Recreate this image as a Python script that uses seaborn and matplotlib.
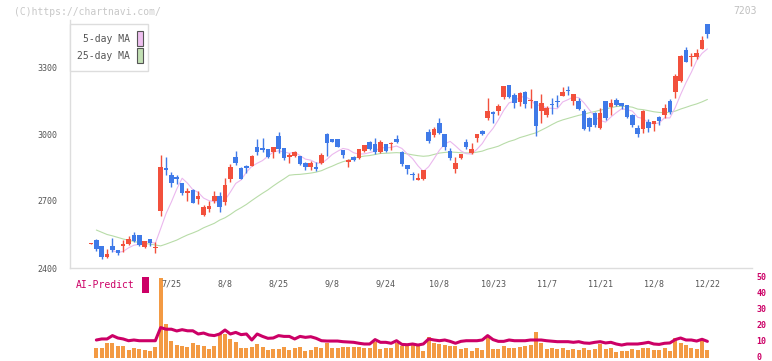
import numpy as np
import pandas as pd
import matplotlib
matplotlib.use('Agg')
import matplotlib.pyplot as plt
import matplotlib.transforms as mtransforms
from matplotlib.patches import Rectangle
import seaborn as sns

# daily prices
opens = [2509, 2525, 2498, 2451, 2498, 2481, 2498, 2507, 2548, 2548, 2495, 2530, 2490, 2657, 2848, 2816, 2807, 2782, 2738, 2749,
         2709, 2639, 2666, 2700, 2722, 2697, 2798, 2897, 2848, 2852, 2857, 2942, 2935, 2933, 2920, 2991, 2937, 2901, 2901, 2901,
         2871, 2854, 2851, 2869, 3000, 2976, 2976, 2928, 2876, 2897, 2891, 2925, 2964, 2954, 2921, 2955, 2953, 2978, 2921, 2861,
         2822, 2795, 2797, 3009, 2996, 3049, 3000, 2924, 2843, 2894, 2966, 2915, 2984, 3013, 3070, 3099, 3104, 3164, 3220, 3175,
         3145, 3188, 3148, 3148, 3104, 3085, 3134, 3148, 3172, 3196, 3148, 3148, 3103, 3073, 3096, 3026, 3148, 3122, 3152, 3139,
         3130, 3086, 3026, 3022, 3052, 3046, 3076, 3085, 3148, 3187, 3239, 3376, 3345, 3346, 3382, 3491]
highs = [2512, 2530, 2500, 2484, 2534, 2481, 2525, 2543, 2561, 2548, 2521, 2530, 2518, 2906, 2897, 2828, 2818, 2782, 2760, 2752,
         2746, 2682, 2700, 2746, 2742, 2804, 2866, 2924, 2851, 2861, 2905, 2979, 2982, 2935, 2944, 3009, 2938, 2914, 2924, 2903,
         2873, 2880, 2873, 2915, 3006, 2978, 2978, 2929, 2886, 2903, 2935, 2952, 2969, 2982, 2973, 2957, 2964, 2996, 2923, 2862,
         2831, 2827, 2840, 3022, 3033, 3073, 3001, 2936, 2898, 2912, 2978, 2960, 3001, 3019, 3163, 3103, 3136, 3217, 3220, 3182,
         3190, 3193, 3202, 3150, 3179, 3125, 3160, 3175, 3212, 3215, 3180, 3160, 3111, 3074, 3098, 3115, 3150, 3157, 3161, 3140,
         3131, 3091, 3040, 3109, 3067, 3060, 3081, 3136, 3157, 3269, 3354, 3390, 3364, 3382, 3439, 3492]
lows = [2508, 2478, 2439, 2446, 2472, 2460, 2472, 2505, 2518, 2498, 2491, 2498, 2468, 2633, 2818, 2764, 2777, 2727, 2701, 2690,
        2687, 2634, 2652, 2691, 2652, 2684, 2785, 2860, 2798, 2824, 2855, 2906, 2921, 2894, 2894, 2916, 2884, 2872, 2896, 2861,
        2839, 2839, 2834, 2864, 2903, 2962, 2940, 2894, 2854, 2881, 2888, 2921, 2928, 2910, 2916, 2921, 2928, 2958, 2858, 2820,
        2794, 2794, 2794, 2958, 2988, 3001, 2928, 2885, 2827, 2887, 2933, 2910, 2966, 2996, 3063, 3051, 3085, 3157, 3160, 3118,
        3124, 3118, 3115, 2992, 3051, 3075, 3088, 3121, 3169, 3175, 3130, 3107, 3018, 3013, 3033, 3021, 3063, 3085, 3127, 3112,
        3073, 3030, 2988, 3003, 3010, 3013, 3040, 3073, 3091, 3163, 3235, 3322, 3306, 3337, 3381, 3431]
closes = [2511, 2484, 2451, 2463, 2481, 2469, 2507, 2531, 2522, 2502, 2521, 2512, 2494, 2852, 2839, 2782, 2800, 2737, 2741, 2693,
          2722, 2673, 2679, 2722, 2675, 2772, 2852, 2872, 2800, 2850, 2903, 2920, 2932, 2898, 2942, 2932, 2894, 2904, 2920, 2866,
          2854, 2871, 2843, 2906, 2958, 2963, 2943, 2906, 2884, 2884, 2933, 2949, 2933, 2918, 2964, 2925, 2960, 2964, 2864, 2843,
          2817, 2800, 2838, 2970, 3022, 3006, 2943, 2894, 2870, 2910, 2943, 2934, 3000, 3000, 3103, 3088, 3125, 3215, 3166, 3139,
          3182, 3133, 3152, 3037, 3139, 3118, 3130, 3142, 3188, 3192, 3179, 3112, 3024, 3033, 3040, 3096, 3073, 3139, 3130, 3127,
          3077, 3040, 3000, 3103, 3028, 3058, 3058, 3115, 3100, 3260, 3349, 3324, 3348, 3364, 3421, 3448]

# 25-day MA for the first days (needs history before the window)
ma25_early = [2570, 2560, 2550, 2544, 2537, 2530, 2524, 2519, 2514, 2510, 2507, 2503, 2499, 2507, 2516, 2525,
              2537, 2548, 2557, 2567, 2580, 2590, 2600]

nan = np.nan
ai_bars = [nan, 6.25, 6.25, 9.4, 9.4, 7.5, 7.5, 5, 6.25, 5.6, 5, 4.4, 6.9, 50, 21.25, 10.8, 8.1, 7.3, 6.9, 9.4,
           8.1, 7.3, 5.6, 7.3, 15.6, 15, 11.9, 9.8, 6, 6, 6.9, 8.75, 6.9, 5.2, 5.6, 5.6, 6.9, 5.2, 6.25, 6.9,
           4.6, 5, 6.7, 6.25, 9.4, 6.25, 6.25, 6.9, 6.9, 6.9, 6.9, 6, 6, 10.2, 5.6, 6.25, 6.25, 9.4, 7.3, 7.3,
           8.1, 7.3, 4.6, 13.3, 9.4, 8.75, 8.1, 7.3, 7.3, 5.6, 6.25, 4.4, 6, 5, 13.3, 5.6, 5.6, 7.3, 6.25, 6.25,
           6.9, 7.3, 8.1, 16, 9.4, 5.6, 6.25, 5.6, 6.25, 5, 5.6, 5, 6.25, 5.2, 5.6, 8.75, 5.6, 6.25, 4, 4.4,
           4.4, 5.6, 5.2, 6.25, 6.25, 5.2, 5.2, 6.25, 4.6, 12.5, 9.4, 8.1, 6.25, 5.6, 10.8, 5.2]
ai_line = [nan, 11.25, 11.9, 11.9, 14, 12.5, 11.9, 10.8, 11.25, 10.8, 10.8, 10.8, 10.8, 19, 18, 18, 16.9, 17.7, 17, 17,
           15, 15.6, 14.4, 14, 15, 17.5, 15, 16, 14.6, 15, 11.25, 15, 13.5, 12.3, 12.5, 14, 13.5, 13.5, 11.9, 13.5,
           12.9, 13.3, 12.3, 10.8, 10.6, 10.6, 10.6, 10.2, 10, 9.8, 9.2, 8.75, 8.75, 11.5, 9.8, 9.8, 9.2, 10.8, 8.5, 8.3,
           8.75, 8.1, 8.75, 11.9, 11.25, 10.8, 11.25, 10.4, 9.2, 10.4, 10.8, 10.8, 10.8, 11.25, 14, 11.5, 10.4, 10.4, 11.25, 10.8,
           10.8, 10.8, 11.25, 11.25, 11.25, 10.8, 10.5, 10.2, 10.2, 10.2, 9.8, 10.2, 9.4, 9.2, 9.8, 10.2, 9.4, 9.8, 8.75, 8.1,
           8.75, 8.75, 8.75, 9.2, 9.8, 8.75, 8.5, 9.2, 9.4, 11.5, 12.5, 11.25, 11.25, 10.6, 11.7, 10.4]

holidays = ['2025-07-21', '2025-08-11', '2025-09-15', '2025-09-23', '2025-10-13', '2025-11-03', '2025-11-24']
label_dates = ['7/25', '8/8', '8/25', '9/8', '9/24', '10/8', '10/23', '11/7', '11/21', '12/8', '12/22']

dates = pd.bdate_range('2025-07-03', '2025-12-22')
dates = dates[~dates.isin(pd.to_datetime(holidays))]

df = pd.DataFrame({'date': dates, 'open': opens, 'high': highs, 'low': lows, 'close': closes,
                   'bar': ai_bars, 'ai': ai_line})
df['i'] = np.arange(len(df))
df['ma5'] = df['close'].rolling(5).mean()
df['ma25'] = df['close'].rolling(25).mean()
df.loc[1:23, 'ma25'] = ma25_early

RED = '#f2503c'
BLUE = '#3f7ae8'
MAG = '#cc0066'

sns.set_style('white')
plt.rcParams['font.family'] = ['DejaVu Sans Mono']

W, H = 772, 361
fig = plt.figure(figsize=(W / 100, H / 100), dpi=100)
ax = fig.add_axes([70 / W, (H - 268) / H, 682 / W, 248 / H])
ax2 = fig.add_axes([70 / W, (H - 359) / H, 682 / W, 89 / H])

x0 = (70 - 91) / 5.36
x1 = (752 - 91) / 5.36

# moving averages
sns.lineplot(data=df, x='i', y='ma25', ax=ax, color='#b8dca8', lw=0.8, zorder=2)
sns.lineplot(data=df, x='i', y='ma5', ax=ax, color='#ebb8ee', lw=0.8, zorder=2)

# candles
up = df['close'] >= df['open']
cols = np.where(up, RED, BLUE)
ax.vlines(df['i'], df['low'], df['high'], colors=cols, lw=1, zorder=3)
h = np.maximum((df['close'] - df['open']).abs(), 7)
mid = (df['close'] + df['open']) / 2
ax.bar(df['i'], h, bottom=mid - h / 2, width=0.85, color=cols, linewidth=0, zorder=4)

ax.set_xlim(x0, x1)
ax.set_ylim(2400, 2400 + 248 * 300 / 67)
ax.set_xlabel('')
ax.set_ylabel('')
ax.set_yticks([2400, 2700, 3000, 3300])
ax.set_xticks(np.linspace(x0, x1, 12))
ax.set_xticklabels([])
ax.tick_params(axis='y', direction='inout', length=8, color='#dddddd', labelsize=6,
               labelcolor='#555555', pad=5)
ax.tick_params(axis='x', direction='inout', length=8, color='#dddddd')
for s in ['top', 'right']:
    ax.spines[s].set_visible(False)
for s in ['left', 'bottom']:
    ax.spines[s].set_color('#dddddd')
    ax.spines[s].set_linewidth(1)

# lower panel
ax2.bar(df['i'], df['bar'], width=0.75, color='#f39a43', linewidth=0, zorder=2)
sns.lineplot(data=df, x='i', y='ai', ax=ax2, color=MAG, lw=2.2, zorder=3)
ax2.set_xlim(x0, x1)
ax2.set_ylim(-0.625, 55)
ax2.set_xlabel('')
ax2.set_ylabel('')
ax2.set_xticks([])
ax2.yaxis.tick_right()
ax2.set_yticks(range(0, 60, 10))
ax2.tick_params(axis='y', length=0, labelsize=6, labelcolor=MAG, pad=3)
shift = mtransforms.ScaledTranslation(0, 2 / 100, fig.dpi_scale_trans)
for lab in ax2.get_yticklabels():
    lab.set_fontweight('bold')
    lab.set_transform(lab.get_transform() + shift)
for s in ax2.spines.values():
    s.set_visible(False)

trans = mtransforms.blended_transform_factory(ax2.transData, ax2.transAxes)
md = df['date'].dt.month.astype(str) + '/' + df['date'].dt.day.astype(str)
for lbl in label_dates:
    idx = df.loc[md == lbl, 'i'].iloc[0]
    ax2.text(idx, (359 - 284) / 89, lbl, transform=trans, ha='center', va='center',
             fontsize=6, color='#555555')

fig.text(76 / W, 1 - 285.5 / H, 'AI-Predict', color=MAG, fontsize=7, va='center')
fig.add_artist(Rectangle((142 / W, 1 - 293 / H), 7 / W, 16 / H, transform=fig.transFigure,
                         color=MAG, lw=0))

# watermark / code
fig.text(14 / W, 1 - 12 / H, '(C)https://chartnavi.com/', color='#c8c8c8', fontsize=7, va='center')
fig.text(757 / W, 1 - 11.5 / H, '7203', color='#c0c0c0', fontsize=7, va='center', ha='right')

# legend box
fig.add_artist(Rectangle((70 / W, 1 - 71 / H), 78 / W, 47 / H, transform=fig.transFigure,
                         facecolor='white', edgecolor='#dddddd', lw=1, zorder=10))
for ytop, lbl, c in [(31, '5-day MA', '#efc0f0'), (48, '25-day MA', '#c2e0b4')]:
    fig.add_artist(Rectangle((136.5 / W, 1 - (ytop + 15) / H), 6 / W, 15 / H, transform=fig.transFigure,
                             facecolor=c, edgecolor='#555555', lw=0.8, zorder=11))
    fig.text(130 / W, 1 - (ytop + 8) / H, lbl, color='#555555', fontsize=7, va='center', ha='right',
             zorder=12)

fig.savefig('out.png', dpi=100)
